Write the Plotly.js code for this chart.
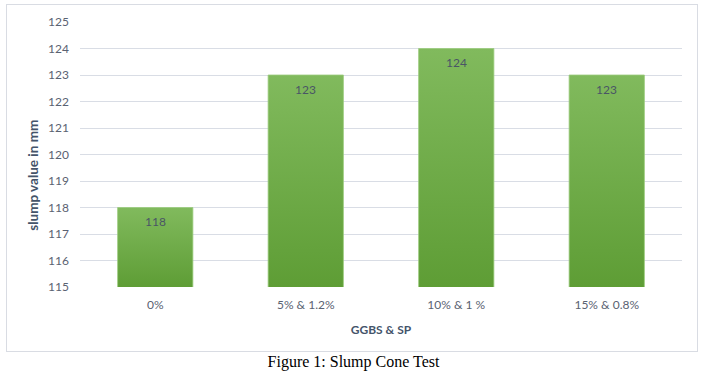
<!DOCTYPE html>
<html><head><meta charset="utf-8">
<script src="https://cdn.plot.ly/plotly-3.0.1.min.js"></script>
<style>
html,body{margin:0;padding:0;background:#fff;width:707px;height:375px;overflow:hidden;}
#frame{position:absolute;left:6px;top:4px;width:690px;height:346px;border:1px solid #d9dce3;}
#chart{width:690px;height:346px;}
#cap{position:absolute;left:0;top:353px;width:707px;text-align:center;font-family:"Liberation Serif","Times New Roman",serif;font-size:16px;color:#000;}
</style></head>
<body>
<div id="frame"><div id="chart"></div></div>
<div id="cap">Figure 1: Slump Cone Test</div>
<script>
const categories = ["0%", "5% & 1.2%", "10% & 1 %", "15% & 0.8%"];
const slumpValues = [118, 123, 124, 123];
const yTicks = [115,116,117,118,119,120,121,122,123,124,125];

const tickColor = "#5a6272";
const titleColor = "#44546a";
const font = "Lato, 'Open Sans', sans-serif";
const gradTop = "#81ba5d", gradBottom = "#5e9d35";

const trace = {
  type: "bar",
  x: categories,
  y: slumpValues,
  width: 0.5,
  marker: {color: "#70ab48", line: {color: "#9ccc7e", width: 0.8}},
  hoverinfo: "skip"
};

const annotations = categories.map((c, i) => ({
  x: c, y: slumpValues[i], xref: "x", yref: "y",
  text: String(slumpValues[i]), showarrow: false,
  yanchor: "middle", yshift: -14,
  font: {family: font, size: 12, color: "#4a5566"}
}));
annotations.push({
  xref: "paper", yref: "paper", x: -0.078, y: 0.42,
  xanchor: "center", yanchor: "middle", textangle: -90,
  text: "<b>slump value in mm</b>", showarrow: false,
  font: {family: font, size: 13.5, color: titleColor}
});

const layout = {
  width: 690, height: 346,
  margin: {l: 73, r: 15, t: 17, b: 64},
  paper_bgcolor: "rgba(0,0,0,0)", plot_bgcolor: "rgba(0,0,0,0)",
  showlegend: false,
  bargap: 0.5,
  font: {family: font, color: tickColor},
  xaxis: {
    type: "category",
    showgrid: false, zeroline: false, showline: false,
    ticks: "", ticklabelstandoff: 9,
    tickfont: {family: font, size: 12, color: tickColor},
    title: {text: "<b>GGBS &amp; SP</b>", font: {family: font, size: 12, color: titleColor}, standoff: 14}
  },
  yaxis: {
    range: [115, 125],
    tickvals: yTicks,
    showgrid: true, gridcolor: "#d9dde5", gridwidth: 1,
    zeroline: false, showline: false, ticks: "",
    ticklabelstandoff: 10,
    tickfont: {family: font, size: 12, color: tickColor}
  },
  annotations: annotations
};

Plotly.newPlot("chart", [trace], layout, {staticPlot: true, displayModeBar: false}).then(function(gd){
  const ns = "http://www.w3.org/2000/svg";
  const svg = gd.querySelector("svg.main-svg");
  let defs = svg.querySelector("defs");
  if (!defs) { defs = document.createElementNS(ns, "defs"); svg.insertBefore(defs, svg.firstChild); }
  const ya = gd._fullLayout.yaxis;
  const yBottom = ya.l2p(ya.range[0]);
  gd.querySelectorAll(".bars .point path").forEach(function(p, i){
    const g = document.createElementNS(ns, "linearGradient");
    g.setAttribute("id", "barGrad" + i);
    g.setAttribute("gradientUnits", "userSpaceOnUse");
    g.setAttribute("x1", "0"); g.setAttribute("x2", "0");
    g.setAttribute("y1", String(ya.l2p(slumpValues[i])));
    g.setAttribute("y2", String(yBottom));
    [["0", gradTop], ["1", gradBottom]].forEach(function(s){
      const st = document.createElementNS(ns, "stop");
      st.setAttribute("offset", s[0]); st.setAttribute("stop-color", s[1]);
      g.appendChild(st);
    });
    defs.appendChild(g);
    p.style.fill = "url(#barGrad" + i + ")";
    p.style.fillOpacity = 1;
  });
});
</script>
</body></html>
